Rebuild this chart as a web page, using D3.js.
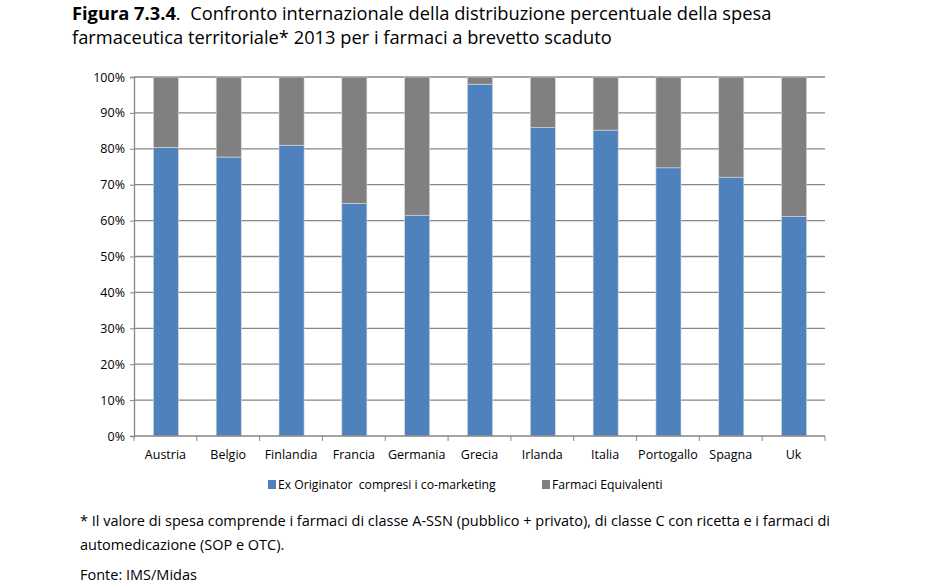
<!DOCTYPE html>
<html><head><meta charset="utf-8">
<script src="https://cdn.jsdelivr.net/npm/d3@7"></script>
<style>body{margin:0;background:#fff}svg{display:block}text{white-space:pre}</style>
</head><body>
<script>
const categories = ["Austria","Belgio","Finlandia","Francia","Germania","Grecia","Irlanda","Italia","Portogallo","Spagna","Uk"];
const exOriginator = [80.4,77.7,81.0,64.8,61.5,98.0,85.9,85.2,74.7,72.1,61.2];
const equivalenti = exOriginator.map(v => 100 - v);
const seriesNames = ["Ex Originator  compresi i co-marketing","Farmaci Equivalenti"];
const yTicks = [0,10,20,30,40,50,60,70,80,90,100];
const colors = ["#4F81BD","#808080"];

const W = 926, H = 586;
const font = "'Open Sans',sans-serif";
const svg = d3.select("body").append("svg").attr("width",W).attr("height",H);

// Title
const t = svg.append("text").attr("x",72).attr("y",20).style("font-family",font).style("font-size","18.3px").attr("fill","#000");
t.append("tspan").attr("font-weight","bold").text("Figura 7.3.4");
t.append("tspan").text(".  Confronto internazionale della distribuzione percentuale della spesa");
svg.append("text").attr("x",72).attr("y",44).style("font-family",font).style("font-size","18.3px").text("farmaceutica territoriale* 2013 per i farmaci a brevetto scaduto");

const m = {l:134, r:825, t:77, b:436};
const x = d3.scaleBand().domain(categories).range([m.l,m.r]).paddingInner(0.585).paddingOuter(0.2925);
const y = d3.scaleLinear().domain([0,100]).range([m.b,m.t]);

// gridlines
svg.append("g").selectAll("line").data(yTicks.filter(d=>d>0)).join("line")
  .attr("x1",m.l).attr("x2",m.r).attr("y1",d=>y(d)).attr("y2",d=>y(d))
  .attr("stroke","#868686").attr("stroke-width",1.3);

const data = categories.map((c,i)=>({c, a:exOriginator[i], b:equivalenti[i]}));
const stack = d3.stack().keys(["a","b"])(data);
svg.append("g").selectAll("g").data(stack).join("g").attr("fill",(d,i)=>colors[i])
  .selectAll("rect").data(d=>d).join("rect")
  .attr("x",d=>x(d.data.c)+1).attr("width",x.bandwidth()-1)
  .attr("y",d=>y(d[1])).attr("height",d=>y(d[0])-y(d[1]))
  .attr("stroke","#d9d9d9").attr("stroke-width",0.6);

// y axis
const ya = svg.append("g").attr("transform",`translate(${m.l},0)`)
  .call(d3.axisLeft(y).tickValues(yTicks).tickFormat(d=>d+"%").tickSize(4).tickPadding(5));
ya.select(".domain").attr("stroke","#868686").attr("stroke-width",1.3);
ya.selectAll(".tick line").attr("stroke","#868686");
ya.selectAll("text").style("font-family",font).style("font-size","12.5px").attr("fill","#000");

// x axis
const xa = svg.append("g").attr("transform",`translate(0,${m.b})`);
xa.call(d3.axisBottom(x).tickSize(0).tickPadding(14));
xa.select(".domain").attr("stroke","#868686").attr("stroke-width",1.3).attr("d",`M${m.l},0H${m.r}`);
xa.selectAll("text").style("font-family",font).style("font-size","12.5px").attr("fill","#000");
xa.selectAll("line.bnd").data(d3.range(categories.length+1)).join("line").attr("class","bnd")
  .attr("x1",i=>m.l+i*(m.r-m.l)/categories.length).attr("x2",i=>m.l+i*(m.r-m.l)/categories.length)
  .attr("y1",0).attr("y2",5).attr("stroke","#868686");

// legend
const lg = svg.append("g");
const lx = [268, 542];
seriesNames.forEach((n,i)=>{
  lg.append("rect").attr("x",lx[i]).attr("y",480).attr("width",8).attr("height",9).attr("fill",colors[i]);
  lg.append("text").attr("x",lx[i]+10).attr("y",489).style("font-family",font).style("font-size","12.2px").text(n);
});

// footnotes
const fn = [["* Il valore di spesa comprende i farmaci di classe A-SSN (pubblico + privato), di classe C con ricetta e i farmaci di",526],
            ["automedicazione (SOP e OTC).",550],["Fonte: IMS/Midas",580]];
fn.forEach(([s,yy])=>svg.append("text").attr("x",80).attr("y",yy).style("font-family",font).style("font-size","14.5px").text(s));
</script>
</body></html>
